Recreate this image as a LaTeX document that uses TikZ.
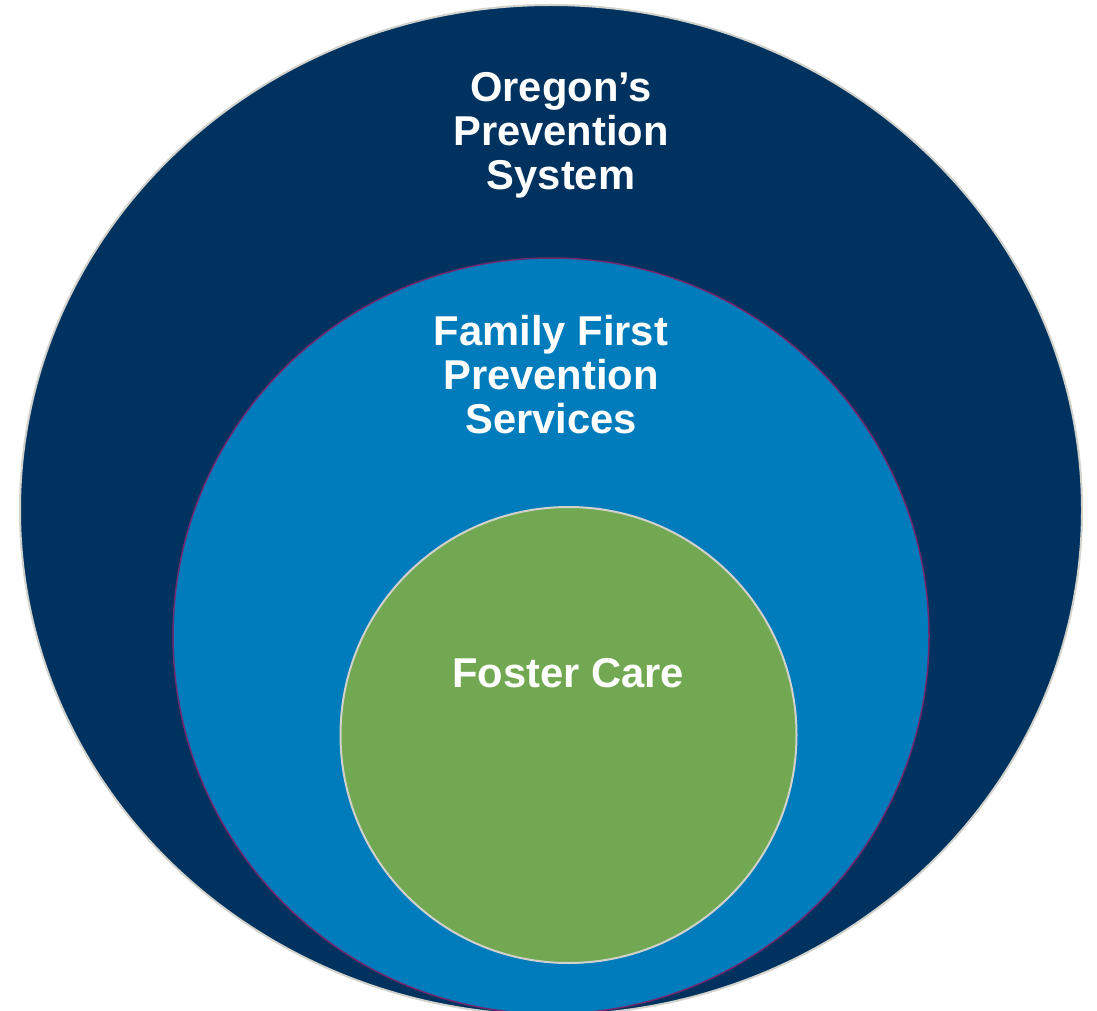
\documentclass[tikz,border=0pt]{standalone}
\usepackage{fontspec}
\setmainfont{Liberation Sans}
\definecolor{outerblue}{RGB}{0,50,95}
\definecolor{midblue}{RGB}{0,123,187}
\definecolor{fostergreen}{RGB}{113,168,81}
\definecolor{midborder}{RGB}{112,40,110}
\definecolor{grayborder}{RGB}{210,210,205}
\tikzset{
  lbl/.style={text=white, font=\fontsize{41.7}{44}\selectfont\bfseries, align=center, inner sep=0pt},
}
\begin{document}
\begin{tikzpicture}[x=1pt,y=-1pt]
\useasboundingbox (0,0) rectangle (1097,1011);
\clip (0,0) rectangle (1097,1011);
\fill[white] (0,0) rectangle (1097,1011);
\draw[fill=outerblue, draw=grayborder, line width=2pt] (551,510) ellipse [x radius=531, y radius=505];
\draw[fill=midblue, draw=midborder, line width=1.5pt] (551,636) ellipse [x radius=378, y radius=378];
\draw[fill=fostergreen, draw=grayborder, line width=2pt] (568.5,735) ellipse [x radius=228, y radius=228];
\node[lbl] (oregon) at (561,135) {Oregon’s\\Prevention\\System};
\node[lbl] (family) at (551,375) {Family First\\Prevention\\Services};
\node[lbl] (foster) at (568,673) {Foster Care};
\end{tikzpicture}
\end{document}
